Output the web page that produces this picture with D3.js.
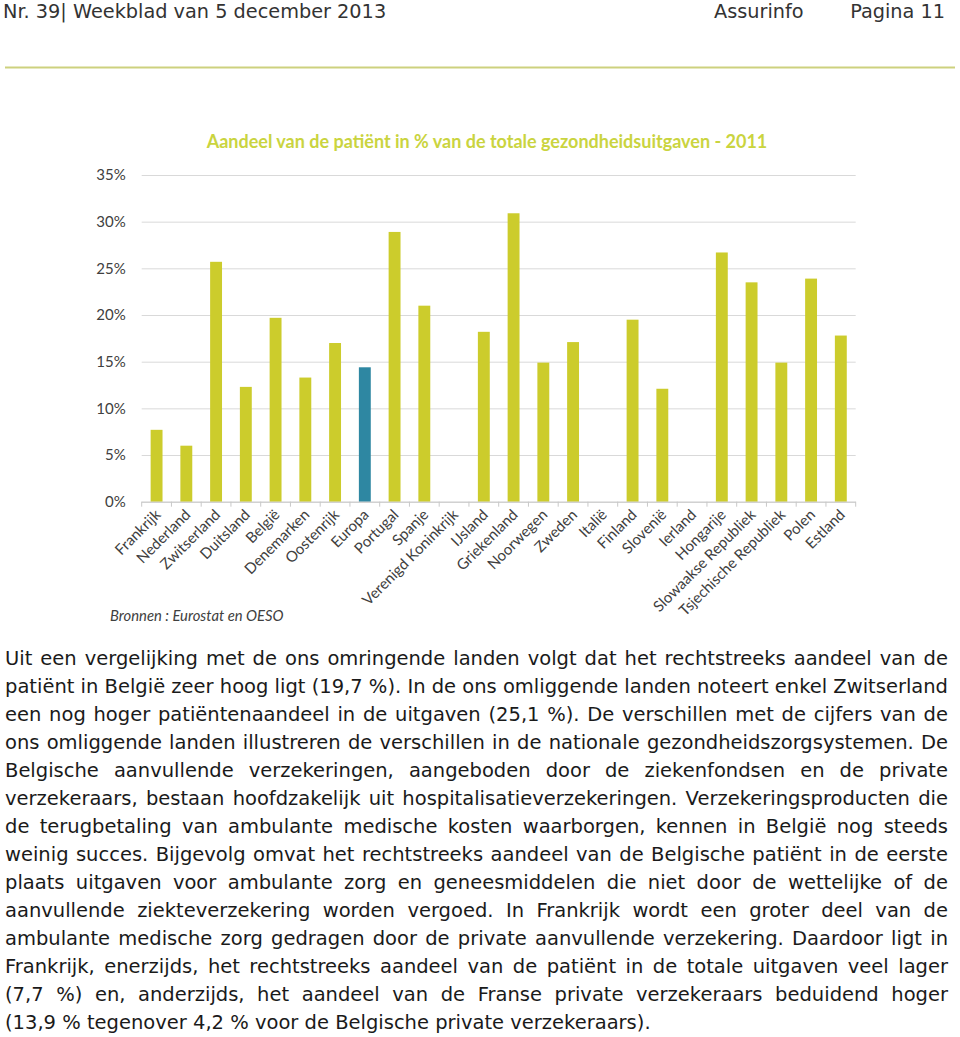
<!DOCTYPE html>
<html>
<head>
<meta charset="utf-8">
<script src="https://cdn.jsdelivr.net/npm/d3@7"></script>
<style>
    body { margin: 0; background: #fff; }
    #page { position: relative; width: 960px; height: 1037px; overflow: hidden; }
    #page svg { position: absolute; left: 0; top: 0; }
    .line {
        position: absolute; left: 5px; white-space: nowrap;
        font-family: "DejaVu Sans", Verdana, sans-serif;
        font-size: 19.5px; color: #1a1a1a; line-height: 28px;
    }
</style>
</head>
<body>
<div id="page"></div>
<script>
// Chart data
const countries = ["Frankrijk", "Nederland", "Zwitserland", "Duitsland", "België", "Denemarken",
    "Oostenrijk", "Europa", "Portugal", "Spanje", "Verenigd Koninkrijk", "IJsland", "Griekenland",
    "Noorwegen", "Zweden", "Italië", "Finland", "Slovenië", "Ierland", "Hongarije",
    "Slowaakse Republiek", "Tsjechische Republiek", "Polen", "Estland"];
// null = no bar shown
const shares = [7.7, 6.0, 25.7, 12.3, 19.7, 13.3, 17.0, 14.4, 28.9, 21.0, null, 18.2, 30.9,
    14.9, 17.1, null, 19.5, 12.1, null, 26.7, 23.5, 14.9, 23.9, 17.8];
const highlight = ["Europa"];
const yTicks = [0, 5, 10, 15, 20, 25, 30, 35];

const title = "Aandeel van de patiënt in % van de totale gezondheidsuitgaven - 2011";
const source = "Bronnen : Eurostat en OESO";

const header = ["Nr. 39| Weekblad van 5 december 2013", "Assurinfo", "Pagina 11"];

const bodyLines = [
    "Uit een vergelijking met de ons omringende landen volgt dat het rechtstreeks aandeel van de",
    "patiënt in België zeer hoog ligt (19,7 %). In de ons omliggende landen noteert enkel Zwitserland",
    "een nog hoger patiëntenaandeel in de uitgaven (25,1 %). De verschillen met de cijfers van de",
    "ons omliggende landen illustreren de verschillen in de nationale gezondheidszorgsystemen. De",
    "Belgische aanvullende verzekeringen, aangeboden door de ziekenfondsen en de private",
    "verzekeraars, bestaan hoofdzakelijk uit hospitalisatieverzekeringen. Verzekeringsproducten die",
    "de terugbetaling van ambulante medische kosten waarborgen, kennen in België nog steeds",
    "weinig succes. Bijgevolg omvat het rechtstreeks aandeel van de Belgische patiënt in de eerste",
    "plaats uitgaven voor ambulante zorg en geneesmiddelen die niet door de wettelijke of de",
    "aanvullende ziekteverzekering worden vergoed. In Frankrijk wordt een groter deel van de",
    "ambulante medische zorg gedragen door de private aanvullende verzekering. Daardoor ligt in",
    "Frankrijk, enerzijds, het rechtstreeks aandeel van de patiënt in de totale uitgaven veel lager",
    "(7,7 %) en, anderzijds, het aandeel van de Franse private verzekeraars beduidend hoger",
    "(13,9 % tegenover 4,2 % voor de Belgische private verzekeraars)."
];

const chartFont = "Lato, 'Open Sans', sans-serif";
const textFont = "'DejaVu Sans', Verdana, sans-serif";

function draw() {
    const page = d3.select("#page");
    const svg = page.append("svg")
        .attr("width", 960)
        .attr("height", 1037);

    // Page header
    svg.append("text").attr("x", 3).attr("y", 18)
        .attr("font-family", textFont).attr("font-size", "19.3px").attr("fill", "#333")
        .text(header[0]);
    svg.append("text").attr("x", 714).attr("y", 18)
        .attr("font-family", textFont).attr("font-size", "19.3px").attr("fill", "#333")
        .text(header[1]);
    svg.append("text").attr("x", 945).attr("y", 18)
        .attr("text-anchor", "end")
        .attr("font-family", textFont).attr("font-size", "19.3px").attr("fill", "#333")
        .text(header[2]);
    svg.append("line")
        .attr("x1", 5).attr("x2", 955).attr("y1", 67.5).attr("y2", 67.5)
        .attr("stroke", "#cdd17e").attr("stroke-width", 2);

    // Chart
    const x = d3.scaleBand()
        .domain(countries)
        .range([141.7, 855.7])
        .paddingInner(0.6)
        .paddingOuter(0.3);

    const y = d3.scaleLinear()
        .domain([0, 35])
        .range([501.7, 175]);

    svg.append("text")
        .attr("x", 487).attr("y", 148)
        .attr("text-anchor", "middle")
        .attr("font-family", chartFont).attr("font-weight", "bold")
        .attr("font-size", "18px").attr("fill", "#cad43f")
        .text(title);

    // Gridlines + y labels
    const yAxis = d3.axisLeft(y)
        .tickValues(yTicks)
        .tickSize(-(855.7 - 141.7))
        .tickPadding(16)
        .tickFormat(d => d + "%");

    const yg = svg.append("g")
        .attr("transform", "translate(141.7,0)")
        .call(yAxis);
    yg.select(".domain").remove();
    yg.selectAll(".tick line").attr("stroke", "#d9d9d9");
    yg.selectAll(".tick text")
        .attr("font-family", chartFont).attr("font-size", "15px").attr("fill", "#404040");

    // Bars
    svg.append("g").selectAll("rect")
        .data(countries.map((c, i) => ({ c, v: shares[i] })).filter(d => d.v !== null))
        .enter()
        .append("rect")
        .attr("x", d => x(d.c))
        .attr("width", x.bandwidth())
        .attr("y", d => y(d.v))
        .attr("height", d => y(0) - y(d.v))
        .attr("fill", d => highlight.includes(d.c) ? "#2e87a2" : "#cccc2c");

    // Category axis with ticks between categories
    const xg = svg.append("g");
    xg.append("line")
        .attr("x1", x.range()[0]).attr("x2", x.range()[1])
        .attr("y1", y(0) + 0.5).attr("y2", y(0) + 0.5)
        .attr("stroke", "#c8c8c8");
    xg.selectAll(".sep")
        .data(d3.range(countries.length + 1))
        .enter()
        .append("line")
        .attr("x1", i => x.range()[0] + i * x.step())
        .attr("x2", i => x.range()[0] + i * x.step())
        .attr("y1", y(0)).attr("y2", y(0) + 5)
        .attr("stroke", "#c8c8c8");

    xg.selectAll(".lbl")
        .data(countries)
        .enter()
        .append("text")
        .attr("text-anchor", "end")
        .attr("transform", d => `translate(${x(d) + x.bandwidth() / 2 + 5},${y(0) + 14}) rotate(-45)`)
        .attr("font-family", chartFont).attr("font-size", "15px").attr("fill", "#404040")
        .text(d => d);

    svg.append("text")
        .attr("x", 110).attr("y", 621)
        .attr("font-family", chartFont).attr("font-style", "italic")
        .attr("font-size", "14.8px").attr("fill", "#404040")
        .text(source);

    // Body text, each line justified to the column width
    const colWidth = 943;
    bodyLines.forEach((t, i) => {
        const div = page.append("div")
            .attr("class", "line")
            .style("top", (645 + i * 28) + "px")
            .text(t);
        if (i < bodyLines.length - 1) {
            const w = div.node().getBoundingClientRect().width;
            const gaps = t.split(" ").length - 1;
            div.style("word-spacing", ((colWidth - w) / gaps) + "px");
        }
    });
}

document.addEventListener("DOMContentLoaded", draw);
</script>
</body>
</html>
